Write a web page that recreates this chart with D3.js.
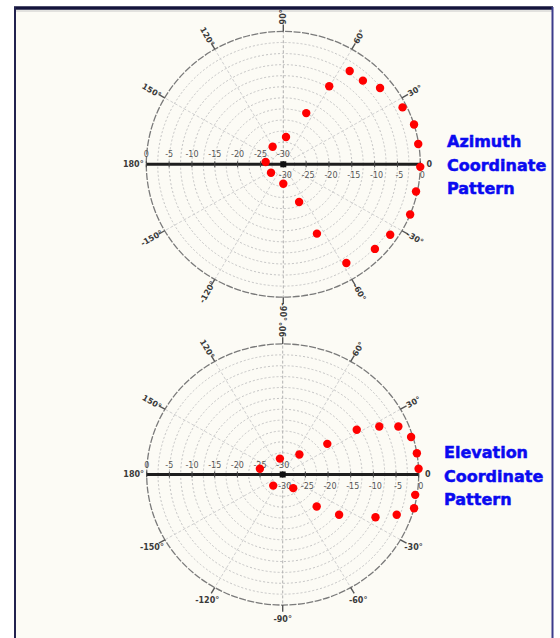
<!DOCTYPE html>
<html>
<head>
<meta charset="utf-8">
<script src="https://cdn.jsdelivr.net/npm/d3@7"></script>
<style>
  body { margin: 0; background: #fff; }
  text { font-family: "DejaVu Sans", sans-serif; }
</style>
</head>
<body>
<svg id="chart" width="560" height="638"></svg>
<script>

// radial levels (dB) shown as labels along the horizontal axis
var dbTicks = [0, -5, -10, -15, -20, -25, -30];
// grid ring levels (dB)
var ringLevels = [-27.5, -25, -22.5, -20, -17.5, -15, -12.5, -10, -7.5, -5, -2.5];

// angle ticks round the rim (deg) and their labels
var angleTicks = [0, 30, 60, 90, 120, 150, 180, -150, -120, -90, -60, -30];
var angleLabels = ["0", "30°", "60°", "90°", "120°", "150°", "180°", "-150°", "-120°", "-90°", "-60°", "-30°"];

// azimuth pattern points: angle (deg), level (dB)
var azAngles = [55.4, 47.3, 39.1, 60.3, 66.5, 84.5, 120.5, 26.2, 17.4, 8.8, -1.1, 172.4, -144.7, -90, -67.9, -11.9, -22.2, -34.2, -43.6, -64.8, -58.2];
var azValues = [-4.4, -4.3, -2.7, -9.7, -17.4, -23.8, -25.4, -0.9, 0, -0.1, 0, -26.1, -26.7, -25.6, -20.8, -0.3, 0, -1.7, -2.3, -12.7, -3.8];

// elevation pattern points: angle (deg), level (dB)
var elAngles = [32.2, 27.4, 23.4, 16.9, 9.4, 2.5, 35.6, 51.4, 99.5, 165.3, -129.4, -53.4, -44.4, -36.6, -25.6, -20.2, -15.0, -9.1];
var elValues = [-10.7, -6.0, -2.2, -0.4, 0, 0, -17.9, -24.1, -26.3, -24.8, -26.7, -26.1, -19.5, -14.5, -7.3, -3.2, 0, -0.4];

var titles = [
  ["Azimuth", "Coordinate", "Pattern"],
  ["Elevation", "Coordinate", "Pattern"]
];

var svg = d3.select("#chart");

// frame
svg.append("rect")
    .attr("x", 15).attr("y", 8)
    .attr("width", 537).attr("height", 640)
    .attr("fill", "#fcfbf5");
svg.append("line").attr("x1", 14).attr("x2", 553).attr("y1", 8).attr("y2", 8)
    .attr("stroke", "#14143c").attr("stroke-width", 3.5);
svg.append("line").attr("x1", 15).attr("x2", 552).attr("y1", 11).attr("y2", 11)
    .attr("stroke", "#c8c8c8").attr("stroke-width", 1);
svg.append("line").attr("x1", 15).attr("x2", 15).attr("y1", 7).attr("y2", 638)
    .attr("stroke", "#22224e").attr("stroke-width", 2);
svg.append("line").attr("x1", 552.5).attr("x2", 552.5).attr("y1", 7).attr("y2", 638)
    .attr("stroke", "#3c3c8c").attr("stroke-width", 2);

function drawPolar(cfg, angles, values, title) {

    var g = svg.append("g");
    var r = d3.scaleLinear().domain([-30, 0]).range([0, cfg.R]).clamp(true);
    var rad = a => a * Math.PI / 180;
    var px = (a, d) => cfg.cx + d * Math.cos(rad(a));
    var py = (a, d) => cfg.cy - d * cfg.ky * Math.sin(rad(a));

    // rings
    g.selectAll(".ring")
        .data(ringLevels)
        .join("ellipse")
        .attr("class", "ring")
        .attr("cx", cfg.cx).attr("cy", cfg.cy)
        .attr("rx", d => r(d)).attr("ry", d => r(d) * cfg.ky)
        .attr("fill", "none")
        .attr("stroke", "#c4c4c4")
        .attr("stroke-dasharray", "2,2");

    // spokes
    g.selectAll(".spoke")
        .data(angleTicks)
        .join("line")
        .attr("class", "spoke")
        .attr("x1", d => px(d, r(-27.5))).attr("y1", d => py(d, r(-27.5)))
        .attr("x2", d => px(d, cfg.R)).attr("y2", d => py(d, cfg.R))
        .attr("stroke", d => d == 90 || d == -90 ? "#b0b0b0" : "#cfcfcf")
        .attr("stroke-dasharray", "3,2");

    // outer rim
    g.append("ellipse")
        .attr("cx", cfg.cx).attr("cy", cfg.cy)
        .attr("rx", cfg.R).attr("ry", cfg.R * cfg.ky)
        .attr("fill", "none")
        .attr("stroke", "#7a7a7a")
        .attr("stroke-width", 1.3)
        .attr("stroke-dasharray", "7,1.5");

    // rim ticks and angle labels
    g.selectAll(".atick")
        .data(angleTicks.filter(d => d != 0 && d != 180))
        .join("line")
        .attr("class", "atick")
        .attr("x1", d => px(d, cfg.R)).attr("y1", d => py(d, cfg.R))
        .attr("x2", d => px(d, cfg.R + 7)).attr("y2", d => py(d, cfg.R + 7))
        .attr("stroke", "#555").attr("stroke-width", 1.4);

    g.selectAll(".alabel")
        .data(angleTicks)
        .join("text")
        .attr("class", "alabel")
        .attr("transform", function(d, i) {
            var off = d == 0 ? 9 : (d == 180 ? 13 : 15);
            var x = px(d, cfg.R + off), y = py(d, cfg.R + off);
            var rot = 0;
            if (d != 0 && d != 180 && (cfg.radialAll || d > 0)) {
                rot = -d;
                if (rot < -90) rot += 180;
                if (rot > 90) rot -= 180;
            }
            return "translate(" + x + "," + y + ") rotate(" + rot + ")";
        })
        .attr("text-anchor", "middle")
        .attr("dy", "0.35em")
        .attr("font-size", 8)
        .attr("font-weight", "bold")
        .attr("fill", "#3a3a3a")
        .text((d, i) => angleLabels[i]);

    // horizontal axis
    g.append("line")
        .attr("x1", cfg.cx - cfg.R).attr("x2", cfg.cx + cfg.R)
        .attr("y1", cfg.cy).attr("y2", cfg.cy)
        .attr("stroke", "#1e1e1e").attr("stroke-width", 3);

    g.selectAll(".htick")
        .data(dbTicks.concat(dbTicks.map(d => -d - 60)))
        .join("line")
        .attr("class", "htick")
        .attr("x1", d => d >= -30 ? cfg.cx - r(d) : cfg.cx + r(-d - 60))
        .attr("x2", d => d >= -30 ? cfg.cx - r(d) : cfg.cx + r(-d - 60))
        .attr("y1", cfg.cy - 3).attr("y2", cfg.cy + 3)
        .attr("stroke", "#444").attr("stroke-width", 1);

    g.append("rect")
        .attr("x", cfg.cx - 3).attr("y", cfg.cy - 3)
        .attr("width", 6).attr("height", 6)
        .attr("fill", "#111");

    // dB labels: left side above, right side below
    g.selectAll(".ltick")
        .data(dbTicks)
        .join("text")
        .attr("class", "ltick")
        .attr("x", d => cfg.cx - r(d))
        .attr("y", cfg.cy - 7)
        .attr("text-anchor", "middle")
        .attr("font-size", 8)
        .attr("fill", "#555")
        .text(d => d);

    g.selectAll(".rtick")
        .data(dbTicks)
        .join("text")
        .attr("class", "rtick")
        .attr("x", d => cfg.cx + r(d) + 2)
        .attr("y", cfg.cy + 14)
        .attr("text-anchor", "middle")
        .attr("font-size", 8)
        .attr("fill", "#555")
        .text(d => d);

    // pattern points
    g.selectAll(".dot")
        .data(angles.map((a, i) => [a, values[i]]))
        .join("circle")
        .attr("class", "dot")
        .attr("cx", d => px(d[0], r(d[1])))
        .attr("cy", d => py(d[0], r(d[1])))
        .attr("r", 4.2)
        .attr("fill", "#ff0000");

    // side title
    g.selectAll(".title")
        .data(title)
        .join("text")
        .attr("class", "title")
        .attr("x", cfg.tx)
        .attr("y", (d, i) => cfg.ty + i * 23.5)
        .attr("font-size", 16)
        .attr("font-weight", "bold")
        .attr("fill", "#0a0af0")
        .attr("stroke", "#0a0af0")
        .attr("stroke-width", 0.5)
        .text(d => d);
}

drawPolar({cx: 283.3, cy: 164.3, R: 137, ky: 0.97, radialAll: true, tx: 447, ty: 147},
          azAngles, azValues, titles[0]);
drawPolar({cx: 282.7, cy: 474.5, R: 136, ky: 0.96, radialAll: false, tx: 444, ty: 458},
          elAngles, elValues, titles[1]);

</script>
</body>
</html>
